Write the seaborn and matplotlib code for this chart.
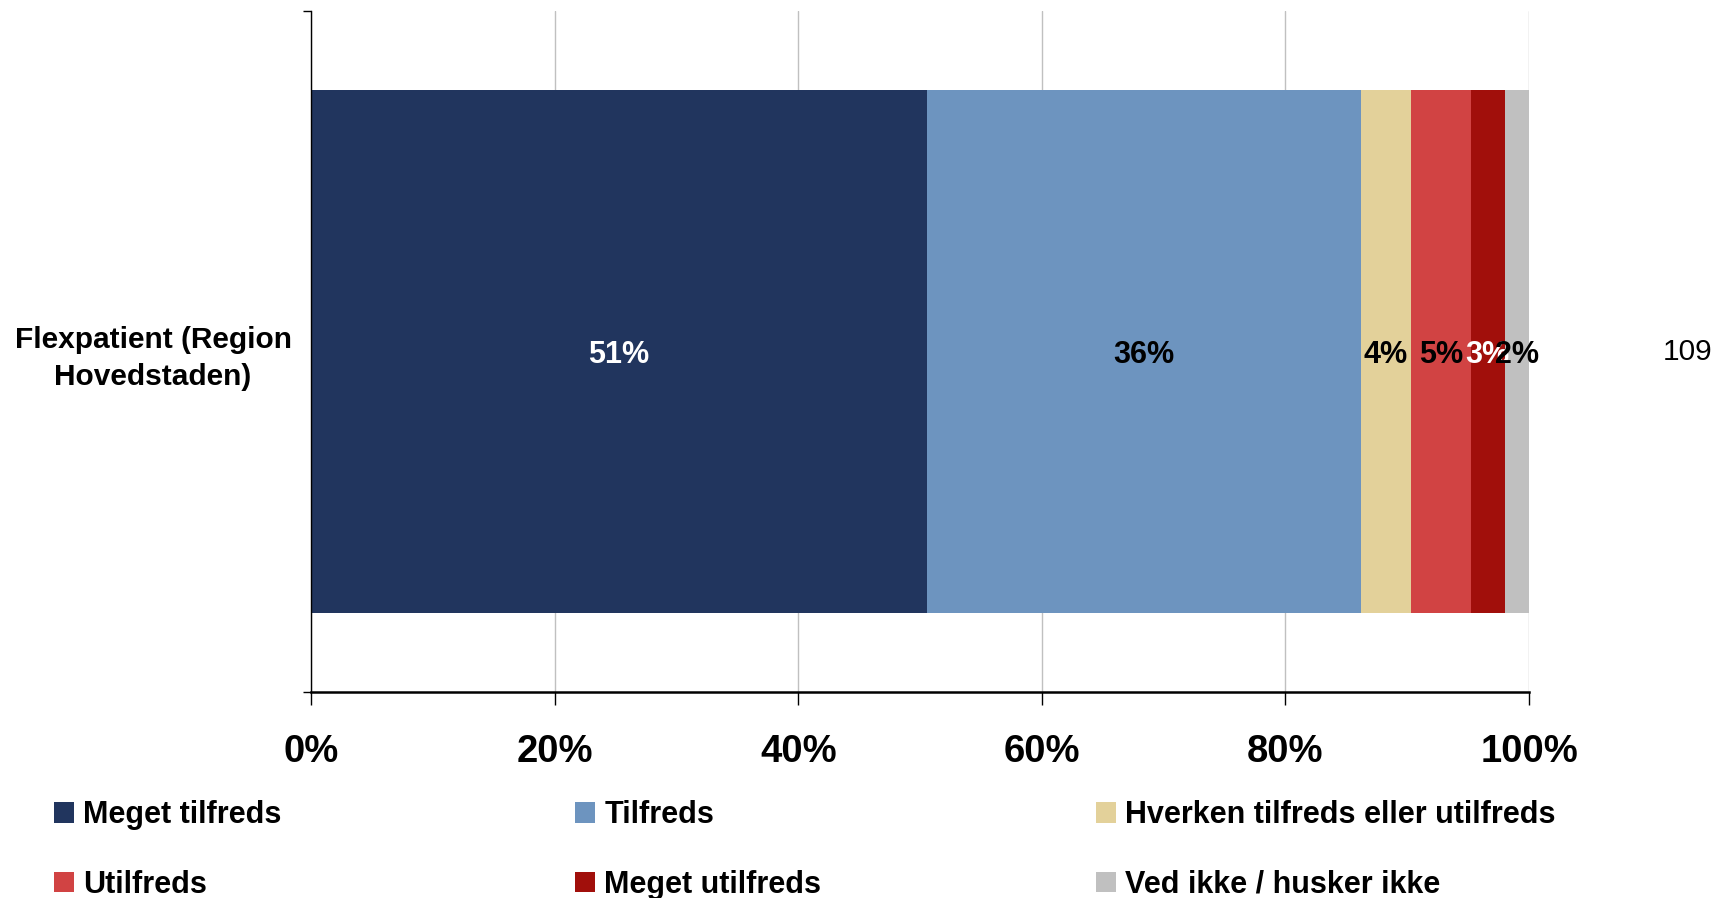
import matplotlib
matplotlib.use("Agg")
import matplotlib.pyplot as plt
import seaborn as sns
import pandas as pd

# data
category = "Flexpatient (Region\nHovedstaden)"
answers = ["Meget tilfreds", "Tilfreds", "Hverken tilfreds eller utilfreds",
           "Utilfreds", "Meget utilfreds", "Ved ikke / husker ikke"]
shares = [50.6, 35.6, 4.1, 4.9, 2.8, 2.0]
n_respondents = 109
colors = ["#21355E", "#6D94BF", "#E3D19A", "#D14343", "#A10F0B", "#C0C0C0"]
label_colors = ["white", "black", "black", "black", "white", "black"]
x_ticks = [0, 20, 40, 60, 80, 100]

sns.set_style("white")
plt.rcParams["font.family"] = ["Liberation Sans", "DejaVu Sans"]
plt.rcParams["text.color"] = "black"
plt.rcParams["xtick.labelcolor"] = "black"
plt.rcParams["ytick.labelcolor"] = "black"

W, H = 1717, 898
fig = plt.figure(figsize=(W / 100, H / 100), dpi=100)
ax = fig.add_axes([311 / W, 1 - 692 / H, (1529 - 311) / W, (692 - 11) / H])

df = pd.DataFrame({"answer": answers, "share": shares})
df["cum"] = df["share"].cumsum()
df["category"] = category

# stacked look: draw cumulative totals from the longest to the shortest
for i in reversed(range(len(df))):
    sns.barplot(data=df.iloc[[i]], x="cum", y="category", orient="h",
                color=colors[i], saturation=1, width=0.767, linewidth=0,
                label=answers[i], ax=ax)
h, l = ax.get_legend_handles_labels()
if ax.get_legend() is not None:
    ax.get_legend().remove()

for i, row in df.iterrows():
    ax.annotate(f"{row['share']:.0f}%", xy=(row["cum"] - row["share"] / 2, 0),
                xytext=(0, -2.5), textcoords="offset points",
                ha="center", va="center", fontsize=22, fontweight="bold",
                color=label_colors[i])

ax.text(111, 0, str(n_respondents), ha="left", va="center", fontsize=21.5,
        clip_on=False)

ax.set_xlim(0, 100)
ax.set_ylim(0.5, -0.5)
ax.set_xticks(x_ticks)
ax.set_xticklabels([f"{t}%" for t in x_ticks], fontsize=27.5, fontweight="bold")
ax.set_xlabel("")
ax.set_ylabel("")
for lab in ax.get_yticklabels():
    lab.set_fontsize(21.5)
    lab.set_fontweight("bold")
    lab.set_multialignment("center")
    lab.set_linespacing(1.4)

ax.xaxis.grid(True, color="#C0C0C0", linewidth=1)
ax.set_axisbelow(True)
sns.despine(ax=ax, top=True, right=True)
ax.spines["left"].set_color("black")
ax.spines["left"].set_linewidth(1)
ax.spines["bottom"].set_color("black")
ax.spines["bottom"].set_linewidth(1.8)

ax.tick_params(axis="x", bottom=True, length=9, width=1, color="black", pad=21.5)
ax.tick_params(axis="y", which="major", left=True, length=0, pad=14)
ax.set_yticks([-0.5, 0.5], minor=True)
ax.tick_params(axis="y", which="minor", left=True, length=6, width=1, color="black")

lookup = dict(zip(l, h))
col_x = [54, 575, 1096]
for c in range(3):
    names = [answers[c], answers[c + 3]]
    fig.legend([lookup[n] for n in names], names, loc="upper left",
               bbox_to_anchor=(col_x[c] / W, 1 - 800 / H), frameon=False,
               borderpad=0, borderaxespad=0, handlelength=0.66,
               handleheight=0.66, handletextpad=0.3, labelspacing=1.3,
               prop={"size": 22, "weight": "bold"})

fig.savefig("out.png", dpi=100)
